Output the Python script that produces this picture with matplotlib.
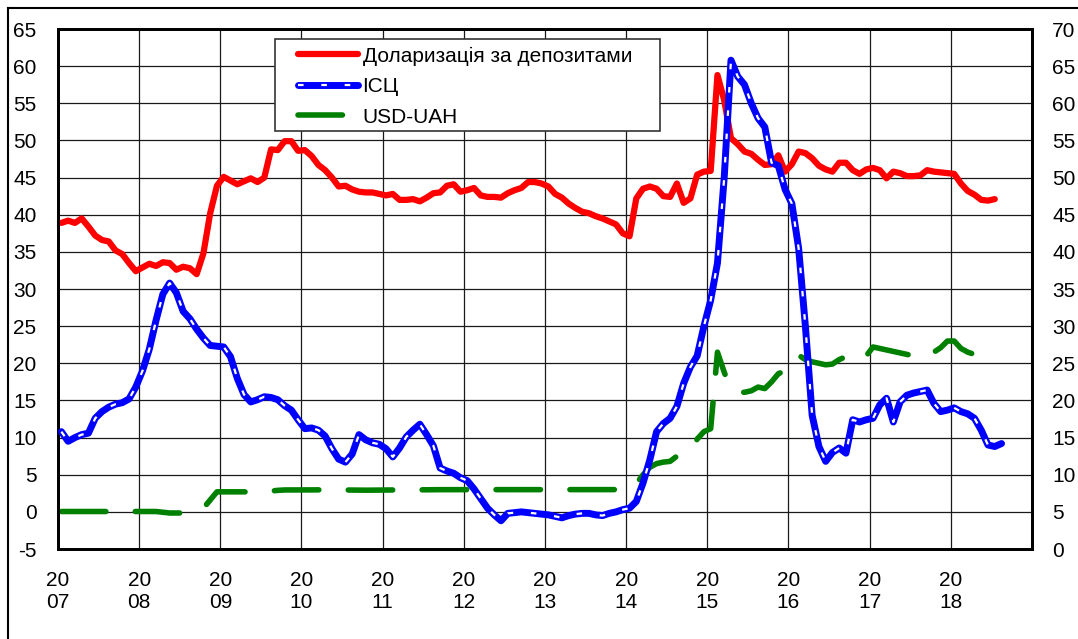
import matplotlib.pyplot as plt
import numpy as np
from matplotlib.lines import Line2D
from matplotlib.patches import Rectangle

plt.rcParams['font.family'] = ['Liberation Sans', 'DejaVu Sans']
plt.rcParams['font.size'] = 15
plt.rcParams['axes.unicode_minus'] = False

# дані помісячно, з січня 2007
years = list(range(2007, 2019))
year_labels = ['20\n%02d' % (y % 100) for y in years]

dollarization = [
    38.9, 39.2, 38.9, 39.5, 38.4, 37.2, 36.6, 36.4, 35.2, 34.7, 33.5, 32.4,  # 2007
    32.9, 33.4, 33.1, 33.6, 33.5, 32.6, 33.0, 32.8, 32.0, 34.8, 40.2, 43.9,  # 2008
    45.1, 44.6, 44.1, 44.5, 44.9, 44.4, 45.0, 48.8, 48.7, 49.9, 49.9, 48.6,  # 2009
    48.7, 47.9, 46.7, 46.0, 45.0, 43.8, 43.9, 43.4, 43.1, 43.0, 43.0, 42.8,  # 2010
    42.6, 42.8, 42.0, 42.0, 42.1, 41.8, 42.3, 42.9, 43.0, 43.9, 44.1, 43.1,  # 2011
    43.3, 43.6, 42.6, 42.4, 42.4, 42.3, 42.9, 43.3, 43.6, 44.4, 44.4, 44.2,  # 2012
    43.8, 42.8, 42.3, 41.5, 40.9, 40.4, 40.2, 39.8, 39.5, 39.1, 38.7, 37.5,  # 2013
    37.1, 42.2, 43.5, 43.8, 43.5, 42.5, 42.4, 44.2, 41.6, 42.2, 45.4, 45.8,  # 2014
    45.9, 58.8, 55.4, 50.3, 49.5, 48.5, 48.2, 47.4, 46.7, 46.8, 48.0, 45.8,  # 2015
    46.8, 48.5, 48.3, 47.6, 46.6, 46.1, 45.8, 47.0, 47.0, 46.0, 45.5, 46.1,  # 2016
    46.3, 46.0, 44.9, 45.8, 45.6, 45.2, 45.2, 45.3, 46.0, 45.8, 45.7, 45.6,  # 2017
    45.5, 44.2, 43.2, 42.7, 42.0, 41.9, 42.1,                                # 2018
]

cpi = [
    10.8, 9.5, 10.0, 10.4, 10.6, 12.6, 13.5, 14.1, 14.5, 14.7, 15.2, 16.8,  # 2007
    19.0, 21.9, 25.8, 29.3, 30.8, 29.5, 27.0, 26.0, 24.6, 23.4, 22.4, 22.3,  # 2008
    22.2, 20.9, 18.0, 15.8, 14.8, 15.1, 15.5, 15.4, 15.1, 14.3, 13.7, 12.4,  # 2009
    11.2, 11.3, 11.0, 10.2, 8.5, 7.1, 6.7, 7.8, 10.4, 9.7, 9.3, 9.1,  # 2010
    8.5, 7.4, 8.6, 10.1, 11.0, 11.8, 10.4, 8.9, 5.9, 5.5, 5.2, 4.6,  # 2011
    4.2, 3.1, 1.8, 0.5, -0.4, -1.2, -0.2, -0.1, 0.0, -0.1, -0.2, -0.3,  # 2012
    -0.4, -0.6, -0.8, -0.5, -0.3, -0.2, -0.2, -0.4, -0.5, -0.2, 0.0, 0.3,  # 2013
    0.5, 1.4, 3.9, 7.0, 10.8, 11.9, 12.6, 14.2, 17.3, 19.5, 21.0, 25.0,  # 2014
    28.5, 33.5, 45.0, 60.8, 58.6, 57.5, 55.0, 53.0, 51.8, 47.0, 46.6, 43.4,  # 2015
    41.5, 35.5, 25.0, 13.0, 8.8, 6.8, 8.0, 8.6, 7.9, 12.4, 12.1, 12.4,  # 2016
    12.6, 14.4, 15.3, 12.1, 14.8, 15.7, 16.0, 16.2, 16.4, 14.6, 13.5, 13.7,  # 2017
    14.0, 13.5, 13.2, 12.6, 11.0, 9.0, 8.8, 9.2,  # 2018
]

usd_uah = [
    5.05, 5.05, 5.05, 5.05, 5.05, 5.05, 5.05, 5.05, 5.05, 5.05, 5.05, 5.05,  # 2007
    5.05, 5.05, 5.05, 4.95, 4.85, 4.85, 4.85, 4.9, 5.1, 5.5, 6.6, 7.7,  # 2008
    7.7, 7.7, 7.7, 7.7, 7.65, 7.65, 7.7, 7.8, 7.9, 7.95, 7.95, 7.95,  # 2009
    7.95, 7.96, 7.97, 7.97, 7.96, 7.95, 7.94, 7.93, 7.92, 7.92, 7.93, 7.94,  # 2010
    7.94, 7.95, 7.95, 7.96, 7.96, 7.97, 7.97, 7.98, 7.99, 7.99, 7.99, 7.99,  # 2011
    7.99, 7.99, 7.99, 7.99, 7.99, 7.99, 7.99, 7.99, 7.99, 7.99, 7.99, 7.99,  # 2012
    7.99, 7.99, 7.99, 7.99, 7.99, 7.99, 7.99, 7.99, 7.99, 7.99, 7.99, 7.99,  # 2013
    8.0, 8.8, 10.0, 11.0, 11.5, 11.7, 11.8, 12.5, 13.1, 13.2, 14.8, 15.8,  # 2014
    16.2, 26.5, 23.8, 21.5, 21.1, 21.1, 21.3, 21.8, 21.6, 22.5, 23.6, 24.0,  # 2015
    24.6, 26.1, 25.5, 25.2, 25.0, 24.8, 24.9, 25.5, 25.9, 25.6, 25.3, 26.0,  # 2016
    27.2, 27.0, 26.8, 26.6, 26.4, 26.2, 26.0, 25.7, 26.0, 26.5, 27.1, 28.0,  # 2017
    28.0, 27.0, 26.5, 26.2,  # 2018
]


def months(values):
    # середина місяця
    return 2007 + (np.arange(len(values)) + 0.5) / 12


fig = plt.figure(figsize=(10.78, 6.39), dpi=100)
ax = fig.add_axes([0.0538, 0.1408, 0.9035, 0.8138])
ax2 = ax.twinx()
# ліва вісь над правою, щоб ІСЦ лежав поверх курсу
ax.set_zorder(ax2.get_zorder() + 1)
ax.patch.set_visible(False)

# курс - права вісь
green, = ax2.plot(months(usd_uah), usd_uah, color='#008000', lw=4,
                  solid_capstyle='round', dash_capstyle='round', zorder=2)
green.set_dashes((8, 5.3))

red, = ax.plot(months(dollarization), dollarization, color='#ff0000', lw=4.5,
               solid_joinstyle='round', solid_capstyle='round', zorder=2)
blue, = ax.plot(months(cpi), cpi, color='#0000ff', lw=5,
                solid_joinstyle='round', solid_capstyle='round', zorder=3)
white, = ax.plot(months(cpi), cpi, color='white', lw=1.6, dashes=(2.5, 8),
                 dash_capstyle='butt', zorder=3.1)

ax.set_xlim(2007, 2019)
ax.set_ylim(-5, 65)
ax2.set_ylim(0, 70)
ax.set_xticks(years)
ax.set_xticklabels(year_labels)
ax.set_yticks(range(-5, 70, 5))
ax2.set_yticks(range(0, 75, 5))

# сітка на нижній осі
ax2.xaxis.set_visible(True)
ax2.tick_params(axis='x', labelbottom=False, length=0)
ax2.grid(True, color='#1a1a1a', lw=0.9)
ax2.set_axisbelow(True)

ax.tick_params(axis='y', length=0, pad=15.5)
ax.tick_params(axis='x', length=0, pad=16)
ax2.tick_params(axis='y', length=0, pad=14.5)
for a in (ax, ax2):
    for s in a.spines.values():
        s.set_linewidth(2)
        s.set_color('black')

# рамка легенди
ax.add_patch(Rectangle((0.2228, 0.8038), 0.3952, 0.177, transform=ax.transAxes,
                       facecolor='white', edgecolor='#333333', lw=1.2, zorder=4))
ax.legend([red, (blue, white), green],
          ['Доларизація за депозитами', 'ІСЦ', 'USD-UAH'],
          loc='upper left', bbox_to_anchor=(0.2464, 0.966), frameon=False,
          borderpad=0, borderaxespad=0, handlelength=2.9, handletextpad=0.2,
          labelspacing=0.55, fontsize=15)

# рамка навколо рисунка
fig.add_artist(Line2D([0.0074, 0.0074], [0, 0.9875], color='black', lw=1.5,
                      transform=fig.transFigure))
fig.add_artist(Line2D([0.0074, 1], [0.9875, 0.9875], color='black', lw=1.5,
                      transform=fig.transFigure))

fig.savefig('out.png', dpi=100)
